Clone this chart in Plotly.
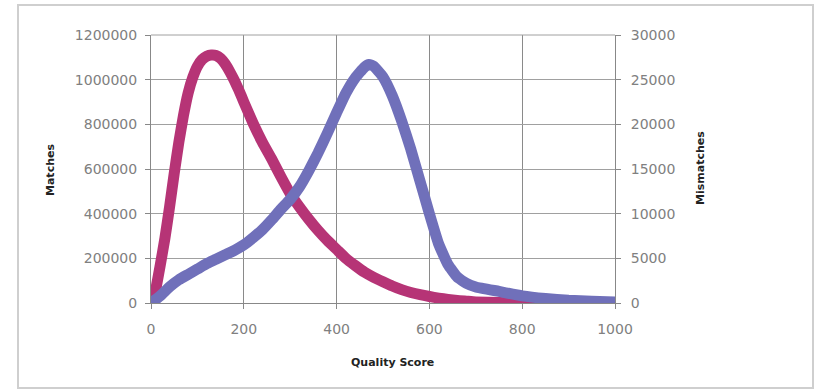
import plotly.graph_objects as go

# Quality score sample positions
quality_m = [0, 10, 20, 30, 40, 50, 60, 70, 80, 90, 100, 110, 120, 130, 140, 150, 160, 170, 180, 190,
             200, 220, 240, 260, 280, 300, 320, 340, 360, 380, 400, 420, 440, 460, 480, 500, 520, 540,
             560, 580, 600, 620, 640, 660, 680, 700, 750, 800, 850, 900, 950, 1000]
matches = [0, 60000, 170000, 290000, 430000, 580000, 720000, 840000, 940000, 1010000, 1060000,
           1090000, 1105000, 1110000, 1108000, 1095000, 1070000, 1035000, 995000, 950000,
           900000, 805000, 720000, 645000, 565000, 490000, 430000, 375000, 325000, 280000,
           240000, 200000, 168000, 138000, 115000, 95000, 76000, 60000, 47000, 37000, 29000,
           22000, 16000, 11000, 8000, 5000, 2000, 1000, 500, 300, 100, 0]

quality_mm = [0, 20, 40, 60, 80, 100, 120, 140, 160, 180, 200, 220, 240, 260, 280, 300, 320, 340,
              360, 380, 400, 420, 440, 460, 470, 480, 500, 520, 540, 560, 580, 600, 620, 640, 660,
              680, 700, 750, 800, 850, 900, 950, 1000]
mismatches = [0, 800, 1800, 2600, 3200, 3800, 4400, 4900, 5400, 5900, 6500, 7300, 8200, 9300,
              10500, 11600, 13000, 14800, 16800, 19000, 21300, 23500, 25200, 26400, 26700, 26500,
              25300, 23200, 20400, 17200, 13600, 10000, 6600, 4300, 2900, 2200, 1800, 1300, 800,
              500, 300, 200, 100]

x_ticks = [0, 200, 400, 600, 800, 1000]
left_ticks = [0, 200000, 400000, 600000, 800000, 1000000, 1200000]
right_ticks = [0, 5000, 10000, 15000, 20000, 25000, 30000]

PINK = "rgb(182,52,118)"
BLUE = "rgb(112,112,186)"

fig = go.Figure()
fig.add_trace(go.Scatter(x=quality_m, y=matches, mode="lines", name="Matches",
                         line=dict(color=PINK, width=11, shape="spline", smoothing=0.4),
                         yaxis="y"))
fig.add_trace(go.Scatter(x=quality_mm, y=mismatches, mode="lines", name="Mismatches",
                         line=dict(color=BLUE, width=11, shape="spline", smoothing=0.4),
                         yaxis="y2"))

L, R, T, B = 151, 201, 35, 87
W, H = 816, 390
pw, ph = W - L - R, H - T - B

def px(x):
    return (x - L) / pw

def py(y):
    return (H - B - y) / ph

tickfont = dict(family="DejaVu Sans", size=14, color="#808080")
titlefont = dict(family="DejaVu Sans", size=11, color="#222222")

fig.update_layout(
    width=W, height=H,
    margin=dict(l=L, r=R, t=T, b=B),
    paper_bgcolor="white", plot_bgcolor="white",
    showlegend=False,
    xaxis=dict(range=[0, 1000], tickvals=x_ticks, ticks="outside", ticklen=5,
               tickcolor="#888888", showgrid=True, gridcolor="#8a8a8a", gridwidth=1,
               showline=True, linecolor="#888888", linewidth=1, zeroline=False,
               ticklabelstandoff=8, tickfont=tickfont),
    yaxis=dict(range=[0, 1200000], tickvals=left_ticks, ticks="outside", ticklen=5,
               tickcolor="#888888", showgrid=True, gridcolor="#a0a0a0", gridwidth=1,
               showline=True, linecolor="#888888", linewidth=1, zeroline=False,
               ticklabelstandoff=5, tickformat="d", tickfont=tickfont),
    yaxis2=dict(range=[0, 30000], tickvals=right_ticks, ticks="outside", ticklen=5,
                tickcolor="#888888", overlaying="y", side="right", showgrid=False,
                showline=True, linecolor="#888888", linewidth=1, zeroline=False,
                ticklabelstandoff=7, tickformat="d", tickfont=tickfont),
    annotations=[
        dict(text="<b>Matches</b>", x=px(50), y=py(170), xref="paper", yref="paper",
             xanchor="center", yanchor="middle",
             showarrow=False, textangle=-90, font=titlefont),
        dict(text="<b>Mismatches</b>", x=px(700), y=py(168), xref="paper", yref="paper",
             xanchor="center", yanchor="middle",
             showarrow=False, textangle=-90, font=titlefont),
        dict(text="<b>Quality Score</b>", x=px(392), y=py(362), xref="paper", yref="paper",
             xanchor="center", yanchor="middle",
             showarrow=False, font=titlefont),
    ],
    shapes=[
        dict(type="rect", xref="paper", yref="paper",
             x0=px(18), x1=px(813), y0=py(388), y1=py(5),
             line=dict(color="#cfcfcf", width=2), layer="below"),
        dict(type="line", xref="paper", yref="paper", x0=0, x1=1, y0=1, y1=1,
             line=dict(color="#a0a0a0", width=1)),
    ],
)

fig.write_html("out.html", config={"displayModeBar": False},
               post_script="document.body.style.margin='0';document.body.style.padding='0';")
